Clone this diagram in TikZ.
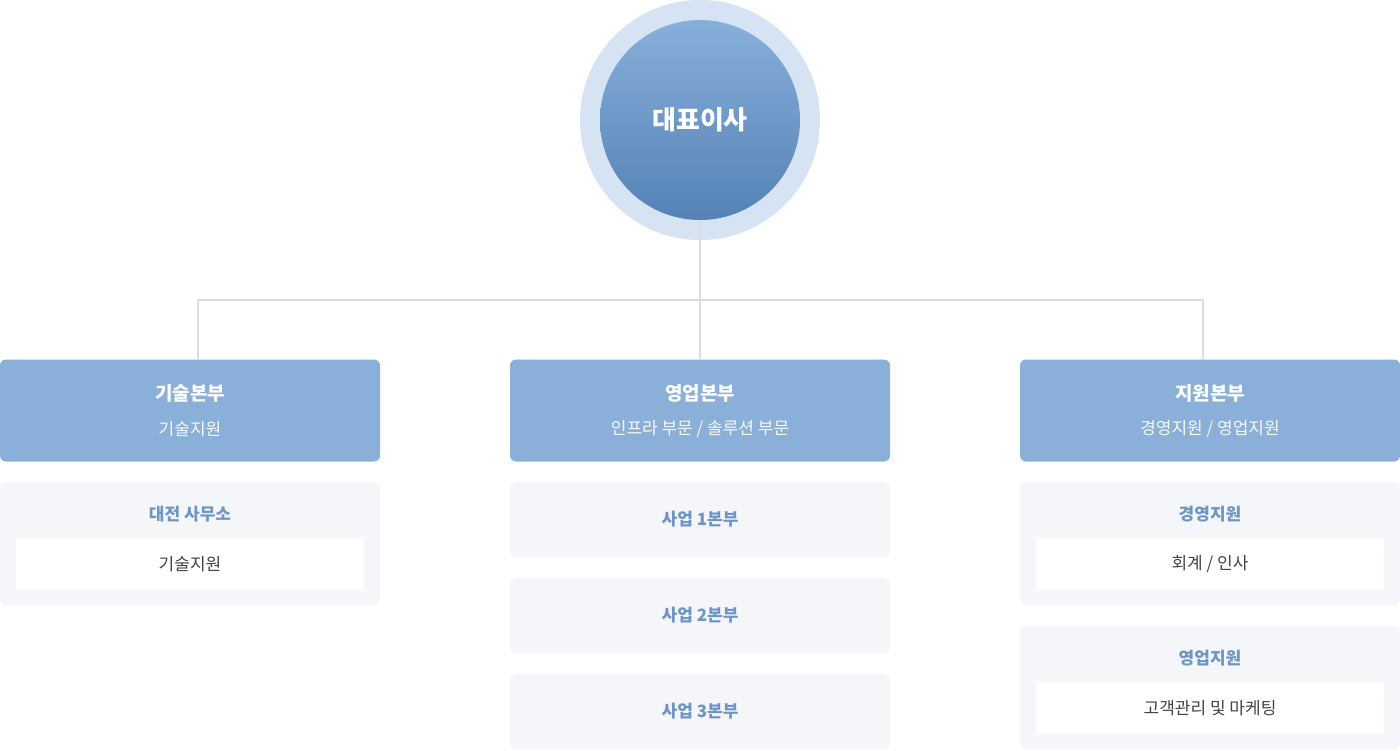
\documentclass[tikz,border=0pt]{standalone}
\usepackage{fontspec}
\setmainfont{Noto Sans CJK KR}
\usetikzlibrary{positioning}
\definecolor{ringblue}{HTML}{D6E3F3}
\definecolor{topblue}{HTML}{87AFDA}
\definecolor{botblue}{HTML}{5482B6}
\definecolor{headblue}{HTML}{8AAFD8}
\definecolor{panelgray}{HTML}{F4F6FA}
\definecolor{titleblue}{HTML}{6D95C6}
\definecolor{linegray}{HTML}{DDDDDD}
\definecolor{textgray}{HTML}{444444}
\tikzset{
  head/.style={fill=headblue,rounded corners=3pt,minimum width=190pt,minimum height=51pt,inner sep=0pt},
  panel/.style={fill=panelgray,rounded corners=3pt,minimum width=190pt,inner sep=0pt},
  inbox/.style={fill=white,minimum width=174pt,minimum height=26pt,inner sep=0pt,text=textgray,font=\fontsize{8.5}{10}\selectfont},
  htitle/.style={text=white,font=\fontsize{9.5}{11}\selectfont\bfseries},
  hsub/.style={text=white!92!headblue,font=\fontsize{8.5}{10}\selectfont},
  ptitle/.style={text=titleblue,font=\fontsize{8.5}{10}\selectfont\bfseries},
  link/.style={draw=linegray,line width=0.6pt}
}
\begin{document}
\begin{tikzpicture}[x=0.5pt,y=-0.5pt]
\useasboundingbox (0,0) rectangle (1400,750);
% CEO
\fill[ringblue] (700,120) circle (60pt);
\shade[top color=topblue,bottom color=botblue] (700,120) circle (50pt);
\node[circle,minimum size=100pt,text=white,font=\fontsize{13}{15}\selectfont\bfseries] (ceo) at (700,120) {대표이사};
% divisions
\node[head,minimum height=51pt] (tech) at (190,410.5) {};
\node[head] (sales) at (700,410.5) {};
\node[head] (supp) at (1210,410.5) {};
\node[htitle] at (190,393) {기술본부};
\node[hsub] at (190,429) {기술지원};
\node[htitle] at (700,393) {영업본부};
\node[hsub] at (700,429) {인프라 부문 / 솔루션 부문};
\node[htitle] at (1210,393) {지원본부};
\node[hsub] at (1210,429) {경영지원 / 영업지원};
% connectors
\coordinate (mid) at (700,300);
\coordinate (left) at (198,300);
\coordinate (right) at (1203,300);
\draw[link] (ceo.south) -- (mid) -- (sales.north);
\draw[link] (left) -- (right);
\draw[link] (left) -- (198,360);
\draw[link] (right) -- (1203,360);
% left column
\node[panel,minimum height=61.5pt] (daejeon) at (190,543.5) {};
\node[ptitle] at (190,514) {대전 사무소};
\node[inbox] (daejeonwork) at (190,564) {기술지원};
% middle column
\foreach \n/\y in {1/519.5,2/615.5,3/711.5} {
  \node[panel,minimum height=37.5pt,ptitle] (biz\n) at (700,\y) {사업 {\n}본부};
}
% right column
\node[panel,minimum height=61.5pt] (mgmt) at (1210,543.5) {};
\node[ptitle] at (1210,514) {경영지원};
\node[inbox] (mgmtwork) at (1210,564) {회계 / 인사};
\node[panel,minimum height=61.5pt] (sup) at (1210,687.5) {};
\node[ptitle] at (1210,658) {영업지원};
\node[inbox] (supwork) at (1210,708) {고객관리 및 마케팅};
\end{tikzpicture}
\end{document}
